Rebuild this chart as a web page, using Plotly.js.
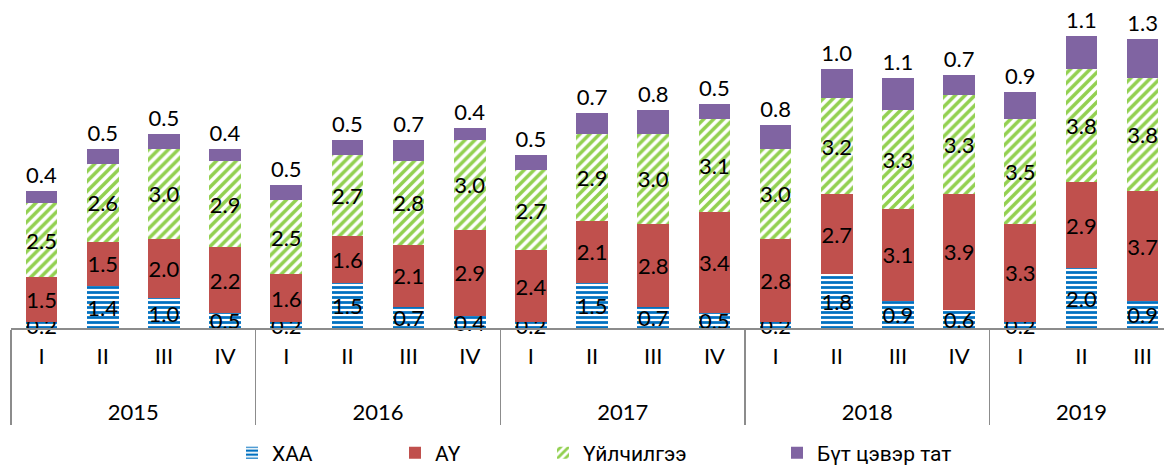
<!DOCTYPE html>
<html>
<head>
<meta charset="utf-8">
<script src="https://cdn.plot.ly/plotly-3.0.1.min.js"></script>
<style>html,body{margin:0;padding:0;background:#fff;}#chart{width:1164px;height:467px;}</style>
</head>
<body>
<div id="chart"></div>
<script>
const years = ["2015","2015","2015","2015","2016","2016","2016","2016","2017","2017","2017","2017","2018","2018","2018","2018","2019","2019","2019"];
const quarters = ["I","II","III","IV","I","II","III","IV","I","II","III","IV","I","II","III","IV","I","II","III"];
const seriesNames = ["ХАА","АҮ","Үйлчилгээ","Бүт цэвэр тат"];
const xaa = [0.2,1.4,1.0,0.5, 0.2,1.5,0.7,0.4, 0.2,1.5,0.7,0.5, 0.2,1.8,0.9,0.6, 0.2,2.0,0.9];
const ay = [1.5,1.5,2.0,2.2, 1.6,1.6,2.1,2.9, 2.4,2.1,2.8,3.4, 2.8,2.7,3.1,3.9, 3.3,2.9,3.7];
const uil = [2.5,2.6,3.0,2.9, 2.5,2.7,2.8,3.0, 2.7,2.9,3.0,3.1, 3.0,3.2,3.3,3.3, 3.5,3.8,3.8];
const but = [0.4,0.5,0.5,0.4, 0.5,0.5,0.7,0.4, 0.5,0.7,0.8,0.5, 0.8,1.0,1.1,0.7, 0.9,1.1,1.3];

// outer (year) labels get a leading line break so they sit lower, as in the reference
const x = [years.map(function (y) { return "<br><span style='baseline-shift:-6px'>" + y + "</span>"; }), quarters];
const labelFont = {family: "Lato, 'Open Sans', sans-serif", size: 22, color: "#000"};
const common = {
  type: "bar", x: x,
  texttemplate: "%{y:.1f}", textangle: 0, constraintext: "none",
  insidetextanchor: "middle", cliponaxis: false,
  insidetextfont: labelFont, outsidetextfont: labelFont, textfont: labelFont,
  hoverinfo: "skip"
};
const traces = [
  Object.assign({}, common, {name: seriesNames[0], y: xaa, textposition: "inside", legend: "legend",
    marker: {color: "#0070C0", line: {width: 0},
      pattern: {shape: "-", fillmode: "replace", fgcolor: "#0070C0", bgcolor: "#ffffff", size: 5, solidity: 0.55}}}),
  Object.assign({}, common, {name: seriesNames[1], y: ay, textposition: "inside", legend: "legend2",
    marker: {color: "#C0504D", line: {width: 0}}}),
  Object.assign({}, common, {name: seriesNames[2], y: uil, textposition: "inside", legend: "legend3",
    marker: {color: "#92D050", line: {width: 0},
      pattern: {shape: "/", fillmode: "replace", fgcolor: "#92D050", bgcolor: "#ffffff", size: 7, solidity: 0.5}}}),
  Object.assign({}, common, {name: seriesNames[3], y: but, textposition: "outside", legend: "legend4",
    marker: {color: "#8064A2", line: {width: 0}}})
];

const W = 1164, H = 467, plotL = 11;
function legendAt(px) {
  return {xref: "container", yref: "container", x: px / W, xanchor: "left", y: 1 - 453 / H, yanchor: "middle",
    orientation: "h", bgcolor: "rgba(0,0,0,0)", borderwidth: 0,
    font: {family: "Roboto, sans-serif", size: 21, color: "#000"}};
}

const layout = {
  width: W, height: H,
  margin: {l: plotL, r: 0, t: 0, b: 139, pad: 0, autoexpand: false},
  paper_bgcolor: "#fff", plot_bgcolor: "#fff",
  barmode: "stack", bargap: 0.48,
  showlegend: true,
  font: labelFont,
  xaxis: {
    type: "multicategory", range: [-0.5, 18.35], automargin: false,
    showline: true, linecolor: "#8c8c8c", linewidth: 1.5,
    showdividers: true, dividercolor: "#8c8c8c", dividerwidth: 1.5,
    ticks: "", ticklabelstandoff: 8, showgrid: false, zeroline: false,
    tickfont: labelFont, fixedrange: true
  },
  yaxis: {range: [0, 11], visible: false, showgrid: false, zeroline: false, fixedrange: true},
  legend: legendAt(232),
  legend2: legendAt(395),
  legend3: legendAt(543),
  legend4: legendAt(777)
};

Plotly.newPlot("chart", traces, layout, {displayModeBar: false, staticPlot: true});
</script>
</body>
</html>
